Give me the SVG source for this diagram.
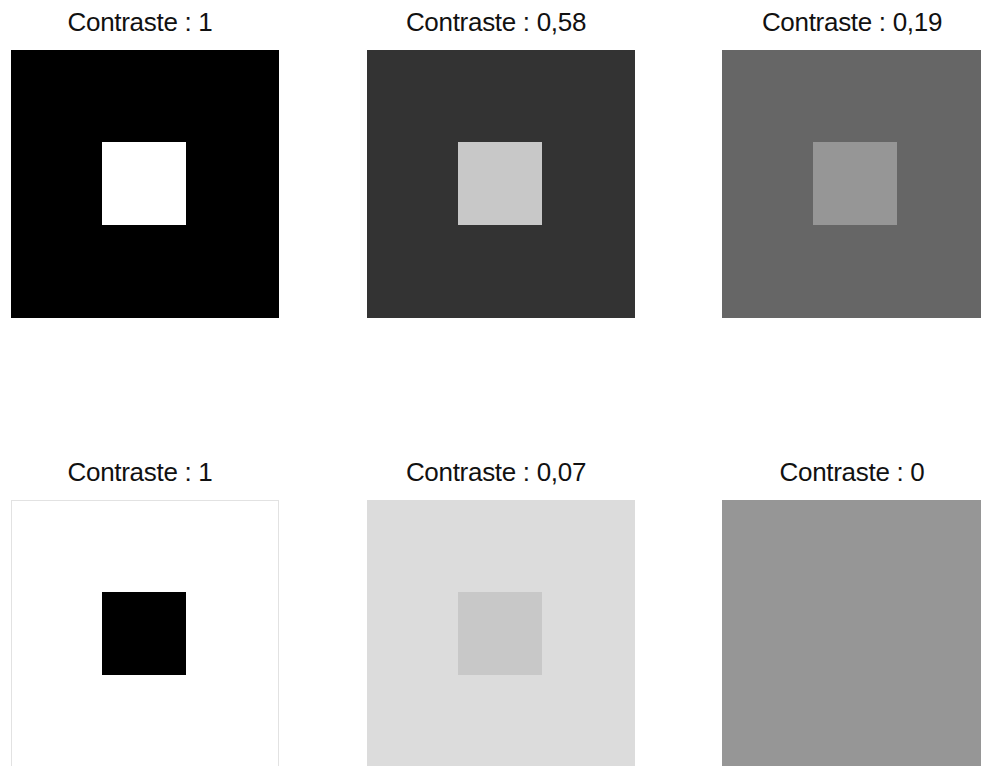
<svg xmlns="http://www.w3.org/2000/svg" width="981" height="766" viewBox="0 0 981 766">
<style>
  .lbl { font-family: "Liberation Sans", Arial, sans-serif; font-size: 26px; fill: #111; text-anchor: middle; letter-spacing: -0.3px; }
</style>
<rect width="981" height="766" fill="#ffffff"/>
<g id="panel-1">
  <text class="lbl" x="140" y="31">Contraste : 1</text>
  <rect x="11" y="50" width="268" height="268" fill="#000000"/>
  <rect x="102" y="142" width="84" height="83" fill="#ffffff"/>
</g>
<g id="panel-2">
  <text class="lbl" x="496" y="31">Contraste : 0,58</text>
  <rect x="367" y="50" width="268" height="268" fill="#333333"/>
  <rect x="458" y="142" width="84" height="83" fill="#c8c8c8"/>
</g>
<g id="panel-3">
  <text class="lbl" x="852" y="31">Contraste : 0,19</text>
  <rect x="722" y="50" width="268" height="268" fill="#666666"/>
  <rect x="813" y="142" width="84" height="83" fill="#969696"/>
</g>
<g id="panel-4">
  <text class="lbl" x="140" y="481">Contraste : 1</text>
  <rect x="11.5" y="500.5" width="267" height="280" fill="#ffffff" stroke="#e2e2e2" stroke-width="1"/>
  <rect x="102" y="592" width="84" height="83" fill="#000000"/>
</g>
<g id="panel-5">
  <text class="lbl" x="496" y="481">Contraste : 0,07</text>
  <rect x="367" y="500" width="268" height="280" fill="#dcdcdc"/>
  <rect x="458" y="592" width="84" height="83" fill="#c8c8c8"/>
</g>
<g id="panel-6">
  <text class="lbl" x="852" y="481">Contraste : 0</text>
  <rect x="722" y="500" width="268" height="280" fill="#969696"/>
</g>
</svg>
